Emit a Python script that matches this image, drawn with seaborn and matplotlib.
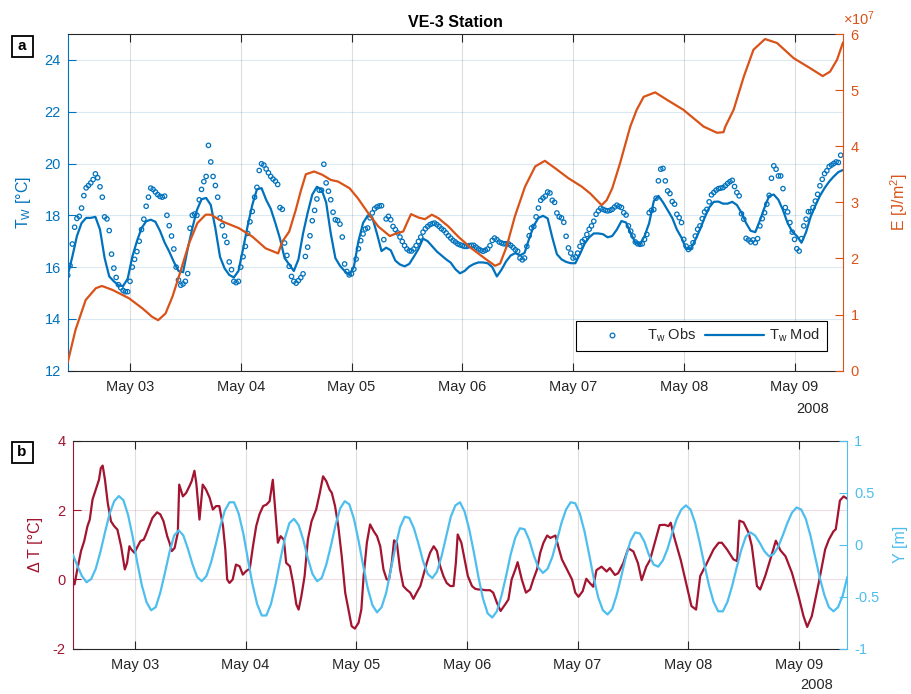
import numpy as np
import pandas as pd
import matplotlib
matplotlib.use("Agg")
import matplotlib.pyplot as plt
import matplotlib.dates as mdates
from matplotlib.lines import Line2D
from matplotlib.patches import Rectangle
from matplotlib.ticker import ScalarFormatter, MultipleLocator
import seaborn as sns

# ---------------- data ----------------
# observed water temperature, every 30 min from 2008-05-02 10:30 [degC]
tw_obs = [
    15.68, 16.06, 16.89, 17.54, 17.88, 17.96, 18.28, 18.76, 19.06, 19.15, 19.25, 19.38,
    19.60, 19.45, 19.10, 18.70, 17.94, 17.86, 17.41, 16.50, 15.96, 15.60, 15.32, 15.20,
    15.10, 15.05, 15.05, 15.45, 16.00, 16.30, 16.60, 17.00, 17.45, 17.85, 18.35, 18.70,
    19.05, 19.00, 18.90, 18.80, 18.73, 18.70, 18.74, 18.00, 17.60, 17.20, 16.70, 16.00,
    15.50, 15.30, 15.35, 15.45, 15.75, 17.50, 18.00, 18.05, 18.00, 18.60, 19.00, 19.30,
    19.50, 20.70, 20.06, 19.50, 19.15, 18.70, 17.90, 17.60, 17.20, 16.95, 16.20, 15.90,
    15.45, 15.40, 15.45, 16.00, 16.40, 16.80, 17.30, 17.75, 18.15, 18.70, 19.08, 19.73,
    19.99, 19.94, 19.79, 19.64, 19.50, 19.40, 19.32, 19.19, 18.30, 18.23, 16.93, 16.45,
    16.03, 15.64, 15.45, 15.38, 15.48, 15.59, 15.74, 16.41, 16.77, 17.21, 17.79, 18.19,
    18.63, 18.97, 18.97, 19.97, 19.25, 18.93, 18.60, 18.12, 17.83, 17.80, 17.66, 17.16,
    16.12, 15.83, 15.70, 15.74, 15.92, 16.31, 16.71, 17.02, 17.28, 17.47, 17.51, 17.90,
    18.09, 18.25, 18.32, 18.36, 18.37, 17.06, 17.86, 17.96, 17.83, 17.57, 17.45, 17.32,
    17.16, 16.99, 16.83, 16.70, 16.63, 16.62, 16.70, 16.83, 16.99, 17.16, 17.35, 17.48,
    17.57, 17.64, 17.68, 17.70, 17.64, 17.57, 17.48, 17.42, 17.32, 17.21, 17.12, 17.03,
    16.97, 16.90, 16.86, 16.83, 16.80, 16.80, 16.83, 16.84, 16.84, 16.77, 16.70, 16.65,
    16.61, 16.65, 16.70, 16.83, 17.03, 17.12, 17.06, 16.97, 16.93, 16.90, 16.90, 16.90,
    16.84, 16.76, 16.67, 16.61, 16.35, 16.28, 16.35, 16.80, 17.21, 17.51, 17.57, 17.94,
    18.28, 18.58, 18.67, 18.74, 18.90, 18.86, 18.58, 18.50, 18.09, 17.94, 17.90, 17.73,
    17.19, 16.74, 16.54, 16.35, 16.39, 16.54, 16.80, 16.99,
    17.07, 17.26, 17.46, 17.59, 17.77, 18.04, 18.17, 18.27, 18.23, 18.19, 18.17, 18.19,
    18.23, 18.32, 18.39, 18.34, 18.30, 18.10, 18.01, 17.59, 17.39, 17.20, 16.97, 16.90,
    16.88, 16.90, 17.07, 17.26, 18.10, 18.19, 18.22, 18.66, 19.33, 19.78, 19.81, 19.33,
    18.94, 18.84, 18.53, 18.43, 18.04, 17.91, 17.72, 17.07, 16.81, 16.68, 16.75, 16.94,
    17.20, 17.46, 17.59, 17.87, 18.13, 18.23, 18.52, 18.79, 18.88, 18.97, 19.03, 19.05,
    19.07, 19.14, 19.23, 19.30, 19.35, 19.11, 18.88, 18.75, 18.06, 17.85, 17.11, 17.05,
    16.97, 17.05, 16.94, 17.10, 17.59, 17.87, 18.10, 18.43, 18.77, 19.43, 19.91, 19.78,
    19.52, 19.52, 19.03, 18.30, 18.13, 17.72, 17.35, 17.07, 16.71, 16.62, 17.10, 17.59,
    17.85, 18.14, 18.14, 18.30, 18.55, 18.81, 19.14, 19.39, 19.61, 19.72, 19.88, 19.94,
    20.00, 20.06, 20.04, 20.32,
]

# modelled water temperature, hourly from 2008-05-02 10:30 [degC]
tw_mod = [
    15.68, 16.40, 17.20, 17.70, 17.90, 17.90, 17.94, 17.45, 16.35, 15.64, 15.45, 15.30,
    15.27, 15.55, 16.40, 17.00, 17.50, 17.77, 17.83, 17.75, 17.40, 16.95, 16.60, 16.20,
    15.85, 15.80, 16.70, 17.50, 18.20, 18.62, 18.67, 18.40, 17.50, 16.40, 15.95, 15.70,
    15.60, 15.85, 16.70, 17.60, 18.40, 19.00, 19.05, 18.60, 18.25, 17.70, 17.10, 16.35,
    16.10, 15.85, 16.30, 17.30, 18.10, 18.80, 19.10, 19.00, 18.50, 17.30, 16.35, 16.05,
    15.85, 15.70, 16.00, 17.00, 17.70, 17.99, 17.92, 17.30, 16.62, 16.75, 16.65, 16.25,
    16.10, 16.03, 16.12, 16.40, 16.70, 17.10, 17.00, 16.80, 16.60, 16.45, 16.30, 16.17,
    15.92, 15.76, 15.85, 16.02, 16.12, 16.18, 16.18, 16.15, 16.00, 15.64, 15.90, 16.22,
    16.45, 16.54, 16.45, 16.55, 17.10, 17.60, 17.90, 17.98, 17.88, 17.15, 16.50, 16.30,
    16.20, 16.15, 16.15, 16.50, 16.90, 17.15, 17.30, 17.30, 17.27, 17.15, 17.20, 17.45,
    17.78, 17.72, 17.30, 16.95, 16.88, 17.20, 17.70, 18.55, 18.75, 18.50, 18.20, 17.90,
    17.45, 17.14, 16.70, 16.70, 17.05, 17.45, 17.90, 18.30, 18.52, 18.53, 18.45, 18.45,
    18.52, 18.40, 18.10, 17.70, 17.40, 17.35, 17.80, 18.30, 18.75, 18.80, 18.60, 18.20,
    17.70, 17.37, 17.20, 16.94, 17.35, 17.95, 18.37, 18.75, 19.05, 19.30, 19.50, 19.67,
    19.75,
]

# cumulative heat content: hours after 2008-05-03 00:00 and value [1e7 J/m2]
e_hours = [
    -13.5, -11.8, -9.6, -7.4, -6.1, -3.8, -0.2, 2.7, 4.8, 6.1,
    7.7, 9.2, 10.6, 12.8, 14.6, 16.4, 17.5, 20.0, 23.6, 26.5,
    29.4, 32.1, 33.0, 34.5, 35.9, 37.0, 38.1, 39.9, 41.7, 43.5,
    45.1, 47.6, 49.4, 51.6, 53.8, 56.3, 57.8, 59.2, 60.0, 60.9,
    62.5, 63.9, 65.4, 66.8, 69.0, 71.1, 74.0, 76.9, 79.1, 80.2,
    81.6, 83.4, 85.6, 87.8, 89.9, 92.1, 95.0, 97.9, 99.7, 102.2,
    103.3, 104.5, 106.2, 108.4, 109.8, 111.3, 113.8, 116.5, 119.9, 124.3,
    127.2, 128.6, 129.0, 130.8, 133.0, 135.1, 137.6, 140.2, 143.8, 147.4,
    150.1, 151.7, 153.2, 154.5,
]
e_vals = [
    0.15, 0.73, 1.26, 1.47, 1.51, 1.44, 1.29, 1.11, 0.96, 0.90,
    1.02, 1.32, 1.68, 2.27, 2.63, 2.78, 2.78, 2.66, 2.54, 2.39,
    2.18, 2.09, 2.30, 2.48, 2.86, 3.20, 3.50, 3.55, 3.49, 3.40,
    3.37, 3.25, 3.07, 2.81, 2.57, 2.40, 2.45, 2.48, 2.63, 2.79,
    2.73, 2.70, 2.78, 2.72, 2.57, 2.39, 2.18, 2.00, 1.87, 1.91,
    2.21, 2.75, 3.28, 3.64, 3.74, 3.61, 3.43, 3.28, 3.16, 2.95,
    3.04, 3.25, 3.70, 4.35, 4.65, 4.88, 4.96, 4.82, 4.65, 4.35,
    4.24, 4.25, 4.35, 4.65, 5.24, 5.72, 5.91, 5.84, 5.57, 5.39,
    5.25, 5.33, 5.54, 5.85,
]

# temperature difference: hours after 2008-05-03 00:00 and value [degC]
dt_hours = [
    -13.5, -13.1, -12.5, -11.7, -11.0, -10.3, -9.8, -9.2, -8.5, -7.8,
    -7.4, -7.0, -6.5, -5.9, -5.2, -4.5, -3.8, -3.0, -2.2, -1.7,
    -1.2, -0.8, -0.1, 0.6, 1.2, 1.9, 2.4, 3.1, 3.8, 4.8,
    5.5, 6.2, 7.0, 7.5, 8.0, 8.6, 9.3, 9.6, 10.4, 11.1,
    11.8, 12.3, 12.9, 13.3, 14.0, 14.7, 15.4, 16.2, 16.9, 17.6,
    18.3, 19.1, 19.6, 20.0, 20.5, 21.2, 21.9, 22.7, 23.4, 24.1,
    24.9, 25.6, 26.3, 27.0, 27.8, 28.5, 29.2, 29.9, 30.4, 31.0,
    31.6, 32.3, 32.8, 33.6, 34.3, 35.0, 35.5, 36.1, 36.8, 37.5,
    38.3, 39.3, 40.1, 40.8, 41.5, 42.2, 42.7, 43.4, 44.1, 44.85,
    45.6, 46.3, 47.0, 47.7, 48.5, 49.1, 49.6, 50.3, 51.0, 51.8,
    52.5, 53.2, 53.9, 54.6, 55.1, 55.7, 56.2, 56.8, 57.5, 58.2,
    58.9, 59.7, 60.4, 61.1, 61.9, 62.6, 63.3, 64.0, 64.8, 65.5,
    66.2, 66.9, 67.6, 68.4, 69.1, 69.6, 70.0, 70.8, 71.5, 72.2,
    73.1, 73.8, 74.5, 75.2, 76.0, 77.0, 77.7, 78.5, 79.3, 80.3,
    81.0, 81.7, 82.5, 83.0, 83.9, 84.8, 85.7, 86.4, 87.2, 87.9,
    88.6, 89.4, 90.1, 91.2, 91.9, 92.6, 93.7, 94.8, 95.5, 96.2,
    97.1, 97.9, 98.7, 99.4, 100.1, 101.2, 102.3, 103.0, 104.1, 104.8,
    105.9, 107.0, 108.1, 109.1, 109.9, 110.9, 111.7, 112.7, 113.8, 114.9,
    115.7, 116.2, 116.9, 118.4, 119.7, 120.7, 121.7, 122.6, 123.7, 125.5,
    126.6, 127.3, 128.4, 129.8, 130.6, 131.1, 132.0, 133.1, 133.8, 134.9,
    135.6, 136.7, 137.8, 139.0, 140.0, 141.1, 142.5, 144.0, 145.0, 145.8,
    146.8, 148.3, 149.7, 150.5, 151.5, 152.0, 152.9, 153.7, 154.5,
]
dt_vals = [
    -0.14, -0.14, 0.29, 0.82, 1.11, 1.54, 1.73, 2.31, 2.60, 2.88,
    3.22, 3.29, 2.88, 2.21, 1.68, 1.54, 1.44, 0.96, 0.29, 0.48,
    0.96, 0.87, 0.77, 0.96, 1.11, 1.15, 1.30, 1.54, 1.78, 1.94,
    1.88, 1.68, 1.25, 1.06, 0.82, 0.91, 1.35, 2.74, 2.40, 2.50,
    2.69, 2.84, 3.14, 2.79, 1.73, 2.74, 2.60, 2.36, 2.02, 2.12,
    2.12, 1.54, 0.87, 0.00, -0.10, 0.00, 0.43, 0.38, 0.14, 0.24,
    0.31, 0.96, 1.54, 1.88, 2.12, 2.16, 2.26, 2.88, 2.07, 1.06,
    1.25, 1.15, 0.48, 0.38, -0.10, -0.72, -0.87, -0.48, 0.10, 1.15,
    1.68, 2.02, 2.50, 2.98, 2.84, 2.60, 2.50, 2.12, 1.54, 0.67,
    -0.38, -0.87, -1.35, -1.42, -1.25, -0.87, 0.10, 1.06, 1.59, 1.39,
    1.25, 0.96, 0.29, 0.00, 0.00, 0.48, 1.13, 1.06, 0.29, -0.19,
    -0.29, -0.38, -0.56, -0.38, -0.19, 0.14, 0.48, 0.77, 0.96, 0.82,
    0.38, 0.10, -0.10, -0.19, -0.19, 0.48, 1.30, 1.06, 0.58, 0.10,
    -0.19, -0.27, -0.29, -0.29, -0.31, -0.31, -0.38, -0.67, -0.91, -0.72,
    -0.58, 0.00, 0.29, 0.50, 0.00, -0.38, -0.29, 0.00, 0.29, 0.77,
    1.06, 1.27, 1.20, 1.27, 0.91, 0.58, 0.29, 0.00, -0.38, -0.50,
    -0.34, 0.02, -0.11, -0.21, 0.27, 0.37, 0.23, 0.33, 0.13, 0.18,
    0.47, 0.90, 0.81, 0.47, -0.02, 0.37, 0.56, 1.04, 1.57, 1.58,
    1.54, 1.64, 1.25, 0.55, -0.19, -0.77, -0.87, 0.10, 0.38, 0.87,
    1.06, 1.06, 0.87, 0.58, 0.53, 1.70, 1.65, 1.35, 0.96, -0.19,
    -0.29, 0.10, 0.58, 1.12, 0.84, 0.67, 0.19, -0.52, -1.06, -1.37,
    -1.06, -0.10, 0.87, 1.15, 1.39, 1.45, 2.28, 2.40, 2.33,
]

# water level, hourly from 2008-05-02 10:30 [m]
y_level = [
    -0.09, -0.20, -0.30, -0.36, -0.33, -0.23, -0.07, 0.12, 0.30, 0.42, 0.47, 0.43,
    0.29, 0.08, -0.17, -0.39, -0.55, -0.63, -0.60, -0.46, -0.27, -0.07, 0.09, 0.14,
    0.09, -0.04, -0.19, -0.31, -0.35, -0.30, -0.17, 0.00, 0.18, 0.33, 0.41, 0.41,
    0.30, 0.11, -0.14, -0.38, -0.57, -0.68, -0.68, -0.57, -0.38, -0.15, 0.06, 0.21,
    0.25, 0.19, 0.05, -0.13, -0.28, -0.35, -0.32, -0.19, -0.01, 0.19, 0.35, 0.42,
    0.39, 0.25, 0.04, -0.20, -0.42, -0.58, -0.65, -0.60, -0.46, -0.24, -0.02, 0.17,
    0.27, 0.26, 0.16, 0.01, -0.16, -0.28, -0.32, -0.26, -0.11, 0.08, 0.27, 0.38,
    0.41, 0.32, 0.15, -0.07, -0.31, -0.52, -0.66, -0.70, -0.64, -0.49, -0.30, -0.09,
    0.07, 0.16, 0.15, 0.05, -0.10, -0.22, -0.27, -0.23, -0.12, 0.04, 0.21, 0.34,
    0.41, 0.40, 0.30, 0.13, -0.09, -0.32, -0.51, -0.63, -0.67, -0.62, -0.48, -0.30,
    -0.11, 0.04, 0.12, 0.11, 0.03, -0.10, -0.19, -0.21, -0.15, -0.04, 0.11, 0.25,
    0.34, 0.38, 0.34, 0.21, 0.02, -0.19, -0.39, -0.55, -0.64, -0.64, -0.55, -0.40,
    -0.22, -0.05, 0.08, 0.12, 0.09, 0.02, -0.06, -0.11, -0.09, -0.02, 0.09, 0.21,
    0.31, 0.36, 0.34, 0.25, 0.09, -0.11, -0.31, -0.48, -0.60, -0.64, -0.60, -0.49,
    -0.31,
]

# ---------------- frames ----------------
START = pd.Timestamp("2008-05-02 10:30")
DAY0 = pd.Timestamp("2008-05-03 00:00")
END = START + pd.Timedelta(hours=168)

obs_df = pd.DataFrame({
    "time": START + pd.to_timedelta(np.arange(len(tw_obs)) * 30, unit="min"),
    "Tw": tw_obs})
mod_df = pd.DataFrame({
    "time": START + pd.to_timedelta(np.arange(len(tw_mod)), unit="h"),
    "Tw": tw_mod})
e_df = pd.DataFrame({
    "time": DAY0 + pd.to_timedelta(e_hours, unit="h"),
    "E": np.asarray(e_vals) * 1e7})
dt_df = pd.DataFrame({
    "time": DAY0 + pd.to_timedelta(dt_hours, unit="h"),
    "dT": dt_vals})
y_df = pd.DataFrame({
    "time": START + pd.to_timedelta(np.arange(len(y_level)), unit="h"),
    "Y": y_level})

# ---------------- style ----------------
sns.set_theme(style="ticks")
plt.rcParams.update({
    "font.family": ["Liberation Sans", "DejaVu Sans"],
    "mathtext.fontset": "custom",
    "mathtext.rm": "Liberation Sans",
    "mathtext.it": "Liberation Sans:italic",
    "mathtext.bf": "Liberation Sans:bold",
    "mathtext.default": "regular",
    "axes.linewidth": 0.8,
})

BLUE = "#0072BD"
ORANGE = "#D95319"
DARKRED = "#A2142F"
SKY = "#4DBEEE"
INK = "#262626"
TICK_FS = 10.5
LABEL_FS = 11.5

W, H = 911, 694
fig = plt.figure(figsize=(W / 100, H / 100), dpi=100)


def frac_axes(left, top, right, bottom):
    return [left / W, 1 - bottom / H, (right - left) / W, (bottom - top) / H]


ax1 = fig.add_axes(frac_axes(67.7, 34.0, 843.0, 370.7))
ax1r = ax1.twinx()
ax2 = fig.add_axes(frac_axes(72.7, 441.0, 847.3, 648.7))
ax2r = ax2.twinx()


def style_pair(ax, axr, lcol, rcol, grid_col):
    ax.set_xlim(START, END)
    ax.xaxis.set_major_locator(mdates.DayLocator())
    ax.xaxis.set_major_formatter(mdates.DateFormatter("%b %d"))
    ax.grid(True, axis="x", color=INK, alpha=0.15, lw=0.8)
    ax.grid(True, axis="y", color=grid_col, alpha=0.15, lw=0.8)
    ax.tick_params(axis="x", direction="in", length=6, width=0.8, color=INK,
                   top=True, bottom=True, labelsize=TICK_FS, labelcolor=INK, pad=7)
    ax.tick_params(axis="y", direction="in", length=6, width=0.8, color=lcol,
                   left=True, right=False, labelsize=TICK_FS, labelcolor=lcol, pad=5)
    axr.tick_params(axis="y", direction="in", length=6, width=0.8, color=rcol,
                    right=True, left=False, labelsize=TICK_FS, labelcolor=rcol, pad=5)
    for s in ("top", "bottom"):
        ax.spines[s].set_color(INK)
        ax.spines[s].set_linewidth(0.8)
        axr.spines[s].set_visible(False)
    ax.spines["left"].set_color(lcol)
    ax.spines["right"].set_visible(False)
    axr.spines["left"].set_visible(False)
    axr.spines["right"].set_visible(True)
    axr.spines["right"].set_color(rcol)
    ax.set_xlabel("")
    axr.set_xlabel("")


# ---------------- panel a ----------------
sns.scatterplot(data=obs_df, x="time", y="Tw", ax=ax1, marker="o", s=10,
                facecolor="none", edgecolor=BLUE, linewidth=0.9, legend=False,
                zorder=3)
sns.lineplot(data=mod_df, x="time", y="Tw", ax=ax1, color=BLUE, linewidth=1.6,
             legend=False, zorder=4)
sns.lineplot(data=e_df, x="time", y="E", ax=ax1r, color=ORANGE, linewidth=1.6,
             legend=False)

ax1.set_ylim(12, 25)
ax1.yaxis.set_major_locator(MultipleLocator(2))
ax1r.set_ylim(0, 6e7)
ax1r.yaxis.set_major_locator(MultipleLocator(1e7))
fmt = ScalarFormatter(useMathText=True)
ax1r.yaxis.set_major_formatter(fmt)
style_pair(ax1, ax1r, BLUE, ORANGE, BLUE)
# exponent label sits above the right axis, starting at the spine
ax1r.yaxis.OFFSETTEXTPAD = 6.5
ax1r.yaxis.get_offset_text().set_horizontalalignment("left")
ax1r.yaxis.get_offset_text().set_fontsize(TICK_FS)

ax1.set_ylabel("T$_W$ [°C]", color=BLUE, fontsize=LABEL_FS)
ax1.yaxis.set_label_coords(-0.045, 0.5)
ax1r.set_ylabel("E [J/m$^2$]", color=ORANGE, fontsize=LABEL_FS)
ax1r.yaxis.set_label_coords(1.058, 0.5)
ax1.set_title("VE-3 Station", fontweight="bold", fontsize=LABEL_FS, pad=5,
              color="black")

obs_handle = Line2D([], [], ls="none", marker="o", ms=3.4, mfc="none",
                    mec=BLUE, mew=0.9)
mod_handle = Line2D([], [], color=BLUE, lw=1.6)
leg = ax1r.legend([obs_handle, mod_handle], ["T$_w$ Obs", "T$_w$ Mod"], ncol=2,
                  loc="center", bbox_to_anchor=(701.5 / W, 1 - 335.8 / H),
                  bbox_transform=fig.transFigure, frameon=True, fancybox=False,
                  edgecolor="black", framealpha=1, handlelength=4.0,
                  handletextpad=0.4, columnspacing=0.6, borderpad=0.45,
                  fontsize=TICK_FS)
leg.get_frame().set_linewidth(0.8)

# ---------------- panel b ----------------
sns.lineplot(data=dt_df, x="time", y="dT", ax=ax2, color=DARKRED,
             linewidth=1.6, legend=False)
sns.lineplot(data=y_df, x="time", y="Y", ax=ax2r, color=SKY, linewidth=1.6,
             legend=False)

ax2.set_ylim(-2, 4)
ax2r.set_ylim(-1, 1)
ax2r.set_yticks([-1, -0.5, 0, 0.5, 1])
ax2r.set_yticklabels(["-1", "-0.5", "0", "0.5", "1"])
ax2.set_yticks([-2, 0, 2, 4])
ax2.set_yticklabels(["-2", "0", "2", "4"])
style_pair(ax2, ax2r, DARKRED, SKY, DARKRED)

ax2.set_ylabel("Δ T [°C]", color=DARKRED, fontsize=LABEL_FS)
ax2.yaxis.set_label_coords(-0.038, 0.5)
ax2r.set_ylabel("Y [m]", color=SKY, fontsize=LABEL_FS)
ax2r.yaxis.set_label_coords(1.059, 0.5)

# year under the last date tick
fig.text(829 / W, 1 - 409 / H, "2008", ha="right", va="center",
         fontsize=TICK_FS, color=INK)
fig.text(833 / W, 1 - 685 / H, "2008", ha="right", va="center",
         fontsize=TICK_FS, color=INK)

# boxed panel letters
for letter, cy in (("a", 46.5), ("b", 452.5)):
    fig.add_artist(Rectangle(((11.5) / W, 1 - (cy + 10.5) / H), 21 / W, 21 / H,
                             transform=fig.transFigure, facecolor="white",
                             edgecolor="black", linewidth=1.3))
    fig.text(22 / W, 1 - cy / H, letter, ha="center", va="center",
             fontsize=11, fontweight="bold", color="black")

fig.savefig("out.png", dpi=100)
